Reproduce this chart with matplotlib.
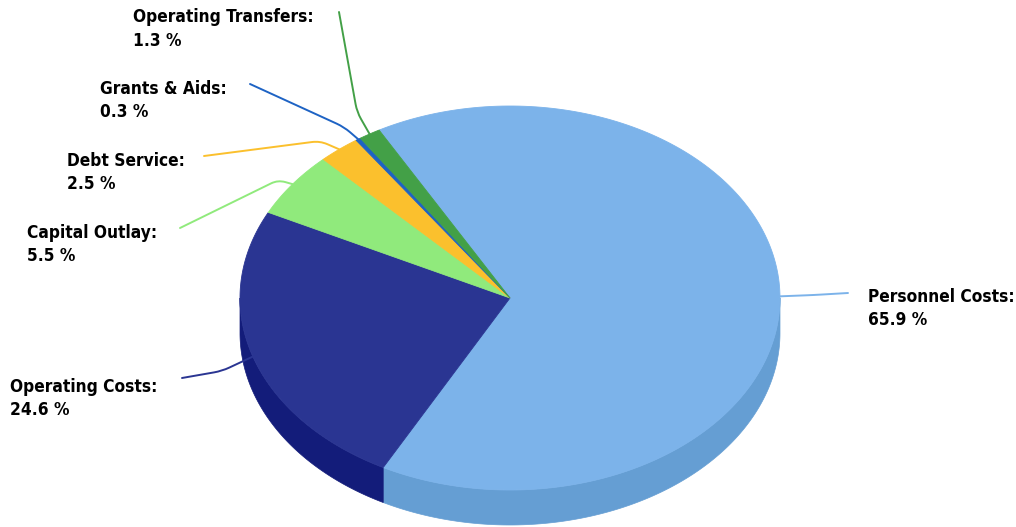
import numpy as np
import matplotlib
matplotlib.use("Agg")
import matplotlib.pyplot as plt
from matplotlib.path import Path
from matplotlib.patches import PathPatch

# Budget share by category (percent)
categories = ["Personnel Costs", "Operating Costs", "Capital Outlay",
              "Debt Service", "Grants & Aids", "Operating Transfers"]
shares = [65.9, 24.6, 5.5, 2.5, 0.3, 1.3]
value_labels = ["65.9 %", "24.6 %", "5.5 %", "2.5 %", "0.3 %", "1.3 %"]

top_colors = ["#7CB3EA", "#2A3592", "#90EA7C", "#FBC02D", "#1E63C4", "#43A047"]
side_colors = ["#659ED3", "#131C7A", "#76CC64", "#D9A321", "#174FA0", "#35833A"]

# pie geometry in pixel units
cx, cy = 510, 298
ra, rb = 270, 192
depth = 35
start_angle = 119.0   # slices run clockwise from here

# label layout: left edge and first baseline, then leader path to pie edge
label_pos = {
    "Personnel Costs": (868, 302),
    "Operating Costs": (10, 392),
    "Capital Outlay": (27, 238),
    "Debt Service": (67, 166),
    "Grants & Aids": (100, 94),
    "Operating Transfers": (133, 22.5),
}
line_gap = 23
leader_pts = {
    "Personnel Costs": [(848, 293), (814, 295)],
    "Operating Costs": [(182, 378), (222, 371)],
    "Capital Outlay": [(180, 228), (278, 180)],
    "Debt Service": [(204, 156), (320, 141)],
    "Grants & Aids": [(250, 84), (344, 127)],
    "Operating Transfers": [(339, 12), (357, 112)],
}


def ellipse_pts(t0, t1, n=200, dy=0):
    t = np.radians(np.linspace(t0, t1, n))
    return cx + ra * np.cos(t), cy - rb * np.sin(t) + dy


def leader_path(p0, p1, p2, r=8):
    # straight run to the elbow, rounded corner, then on to the pie edge
    p0, p1, p2 = map(np.asarray, (p0, p1, p2))
    d0 = (p0 - p1) / np.linalg.norm(p0 - p1)
    d2 = (p2 - p1) / np.linalg.norm(p2 - p1)
    r = min(r, 0.5 * np.linalg.norm(p2 - p1))
    a = p1 + d0 * r
    b = p1 + d2 * r
    verts = [p0, a, p1, b, p2]
    codes = [Path.MOVETO, Path.LINETO, Path.CURVE3, Path.CURVE3, Path.LINETO]
    return Path(verts, codes)


fig = plt.figure(figsize=(10.16, 5.27), dpi=100)
ax = fig.add_axes([0, 0, 1, 1])
ax.set_xlim(0, 1016)
ax.set_ylim(527, 0)
ax.axis("off")

total = sum(shares)
angles = []
a = start_angle
for s in shares:
    span = 360 * s / total
    angles.append((a - span, a))
    a -= span

# side walls for the front half of the pie
for (t0, t1), col in zip(angles, side_colors):
    for k in range(-2, 2):
        lo = max(t0, 180 + 360 * k)
        hi = min(t1, 360 + 360 * k)
        if hi <= lo:
            continue
        xs, ys = ellipse_pts(lo, hi)
        px = np.concatenate([xs, xs[::-1]])
        py = np.concatenate([ys, ys[::-1] + depth])
        ax.fill(px, py, color=col, lw=0.5, ec=col)

# top faces
for (t0, t1), col in zip(angles, top_colors):
    xs, ys = ellipse_pts(t0, t1)
    ax.fill(np.concatenate([[cx], xs]), np.concatenate([[cy], ys]),
            color=col, lw=0.6, ec=col)

# leader lines and labels
font = dict(fontsize=12.4, fontweight="bold", family="DejaVu Sans",
            fontstretch="condensed", color="#000000", ha="left", va="baseline")
for name, (t0, t1), col, vl in zip(categories, angles, top_colors, value_labels):
    mid = np.radians((t0 + t1) / 2)
    edge = (cx + ra * np.cos(mid), cy - rb * np.sin(mid))
    p0, p1 = leader_pts[name]
    ax.add_patch(PathPatch(leader_path(p0, p1, edge), fc="none", ec=col,
                           lw=1.4, capstyle="round", joinstyle="round"))
    lx, ly = label_pos[name]
    ax.text(lx, ly, f"{name}:", **font)
    ax.text(lx, ly + line_gap, vl, **font)

fig.savefig("out.png", dpi=100)
